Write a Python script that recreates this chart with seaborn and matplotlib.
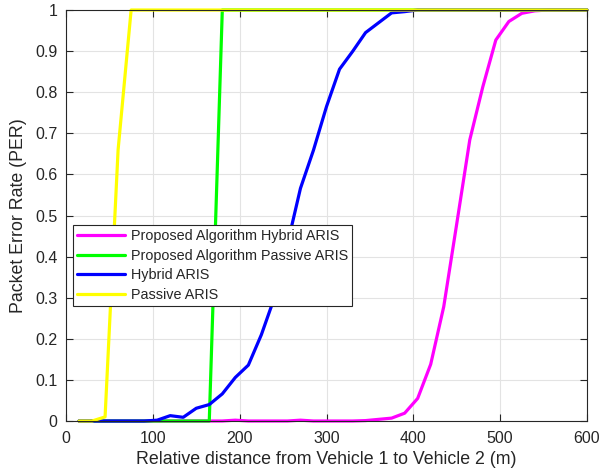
import numpy as np
import pandas as pd
import matplotlib
matplotlib.use("Agg")
import matplotlib.pyplot as plt
import seaborn as sns

distance = [15, 30, 45, 60, 75, 90, 105, 120, 135, 150, 165, 180, 195, 210, 225, 240,
            255, 270, 285, 300, 315, 330, 345, 360, 375, 390, 405, 420, 435, 450, 465,
            480, 495, 510, 525, 540, 555, 570, 585, 600]

prop_hybrid = [0, 0, 0, 0, 0, 0, 0, 0, 0, 0, 0, 0, 0.002, 0, 0, 0,
               0, 0.002, 0, 0, 0, 0, 0.001, 0.004, 0.007, 0.019, 0.055, 0.138, 0.278, 0.48, 0.684,
               0.813, 0.927, 0.972, 0.992, 0.998, 1, 1, 1, 1]

prop_passive = [0, 0, 0, 0, 0, 0, 0, 0, 0, 0, 0, 1, 1, 1, 1, 1,
                1, 1, 1, 1, 1, 1, 1, 1, 1, 1, 1, 1, 1, 1, 1,
                1, 1, 1, 1, 1, 1, 1, 1, 1]

hybrid = [0, 0, 0, 0, 0, 0, 0.002, 0.013, 0.009, 0.031, 0.04, 0.066, 0.106, 0.136, 0.21, 0.30,
          0.43, 0.566, 0.659, 0.765, 0.856, 0.899, 0.945, 0.969, 0.993, 0.996, 1, 1, 1, 1, 1,
          1, 1, 1, 1, 1, 1, 1, 1, 1]

passive = [0, 0, 0.01, 0.66, 1, 1, 1, 1, 1, 1, 1, 1, 1, 1, 1, 1,
           1, 1, 1, 1, 1, 1, 1, 1, 1, 1, 1, 1, 1, 1, 1,
           1, 1, 1, 1, 1, 1, 1, 1, 1]

labels = ["Proposed Algorithm Hybrid ARIS", "Proposed Algorithm Passive ARIS",
          "Hybrid ARIS", "Passive ARIS"]
colors = ["#ff00ff", "#00ff00", "#0000ff", "#ffff00"]

df = pd.concat([
    pd.DataFrame({"x": distance, "y": vals, "series": lab})
    for vals, lab in zip([prop_hybrid, prop_passive, hybrid, passive], labels)
])

sns.set_style("whitegrid", {"grid.color": "#e3e3e3", "axes.edgecolor": "#262626",
                            "xtick.direction": "in", "ytick.direction": "in"})
plt.rcParams['font.family'] = ['Liberation Sans', 'DejaVu Sans']

fig = plt.figure(figsize=(6.12, 4.74), dpi=100)
ax = fig.add_axes([66/612, 1 - 421/474, 521/612, 411/474])

sns.lineplot(data=df, x="x", y="y", hue="series", hue_order=labels,
             palette=colors, linewidth=2.3, ax=ax, legend=True)
for ln in ax.get_lines():
    ln.set_clip_on(False)
    ln.set_solid_joinstyle("round")

ax.set_xlim(0, 600)
ax.set_ylim(0, 1)
ax.set_xticks(np.arange(0, 601, 100))
ax.set_yticks(np.arange(0, 1.01, 0.1))
ax.set_yticklabels(["0", "0.1", "0.2", "0.3", "0.4", "0.5", "0.6", "0.7", "0.8", "0.9", "1"])
ax.tick_params(axis="both", which="both", direction="in", length=5, width=0.8,
               colors="#262626", labelsize=11.5, top=True, right=True,
               bottom=True, left=True)
ax.tick_params(axis="x", pad=7)
ax.tick_params(axis="y", pad=6)
for s in ax.spines.values():
    s.set_color("#262626")
    s.set_linewidth(0.8)
    s.set_visible(True)
ax.grid(True, color="#e3e3e3", linewidth=0.8)
ax.set_axisbelow(True)

ax.set_xlabel("Relative distance from Vehicle 1 to Vehicle 2 (m)", fontsize=12.8,
              color="#262626", labelpad=4)
ax.set_ylabel("Packet Error Rate (PER)", fontsize=12.8, color="#262626", labelpad=6)

handles, labs = ax.get_legend_handles_labels()
leg = ax.legend(handles, labs, loc="upper left",
                bbox_to_anchor=(0.013, 0.477), fontsize=10.4,
                frameon=True, fancybox=False, edgecolor="#262626",
                framealpha=1, borderaxespad=0, handlelength=3.3,
                labelspacing=0.38, borderpad=0.3, handletextpad=0.4)
leg.get_frame().set_linewidth(0.8)
for line in leg.get_lines():
    line.set_linewidth(2.3)

fig.savefig("out.png", dpi=100)
